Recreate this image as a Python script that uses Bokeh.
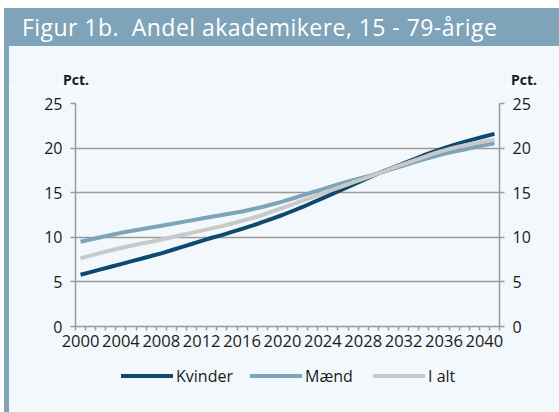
from bokeh.plotting import figure
from bokeh.models import FixedTicker, LinearAxis, Range1d, Div
from bokeh.layouts import column, row
from bokeh.embed import file_html
from bokeh.resources import INLINE

years = list(range(2000, 2042))
kvinder = [5.8, 6.1, 6.4, 6.7, 7.0, 7.3, 7.6, 7.9, 8.2, 8.55,
           8.9, 9.25, 9.6, 9.95, 10.25, 10.6, 10.95, 11.3, 11.7, 12.1,
           12.5, 12.95, 13.4, 13.9, 14.4, 14.9, 15.4, 15.9, 16.4, 16.9,
           17.4, 17.85, 18.3, 18.75, 19.2, 19.6, 20.0, 20.35, 20.7, 21.0,
           21.3, 21.6]
maend = [9.5, 9.75, 10.0, 10.25, 10.5, 10.7, 10.9, 11.1, 11.3, 11.5,
         11.7, 11.9, 12.1, 12.3, 12.5, 12.7, 12.9, 13.15, 13.4, 13.7,
         14.0, 14.35, 14.7, 15.05, 15.4, 15.75, 16.1, 16.4, 16.7, 17.0,
         17.35, 17.7, 18.05, 18.4, 18.75, 19.05, 19.35, 19.6, 19.85, 20.1,
         20.35, 20.55]
i_alt = [7.65, 7.95, 8.25, 8.55, 8.8, 9.05, 9.3, 9.5, 9.75, 10.0,
         10.25, 10.5, 10.75, 11.0, 11.25, 11.55, 11.85, 12.15, 12.5, 12.9,
         13.3, 13.7, 14.1, 14.5, 14.95, 15.35, 15.75, 16.15, 16.55, 16.95,
         17.35, 17.8, 18.2, 18.6, 19.0, 19.4, 19.75, 20.05, 20.3, 20.55,
         20.75, 20.95]
x_tick_labels = [2000, 2004, 2008, 2012, 2016, 2020, 2024, 2028, 2032, 2036, 2040]
y_ticks = [0, 5, 10, 15, 20, 25]
series_names = ["Kvinder", "Mænd", "I alt"]
title_text = "Figur 1b.&nbsp; Andel akademikere, 15 - 79-årige"
unit_text = "Pct."

BG = "#f3f8fc"
BAR = "#7fa3b9"
GRID = "#9a9a9a"
TXT = "#1a1a1a"
colors = ["#0e4a70", "#7fa3ba", "#c9c9c9"]
FONT = "Open Sans"

# figure occupies page x 9..559, y 86..358
p = figure(width=550, height=272, output_backend="svg", toolbar_location=None,
           x_range=Range1d(years[0] - 0.5, years[-1] + 0.5),
           y_range=Range1d(0, 25),
           min_border_left=66, min_border_right=60,
           min_border_top=17, min_border_bottom=32, margin=0)
p.background_fill_color = BG
p.border_fill_color = BG
p.outline_line_color = None

p.xaxis.ticker = FixedTicker(ticks=x_tick_labels,
                             minor_ticks=[y - 0.5 for y in years] + [years[-1] + 0.5])
p.xaxis.major_tick_out = 0
p.xaxis.major_tick_in = 0
p.xaxis.minor_tick_out = 4
p.xaxis.minor_tick_in = 0
p.xaxis.minor_tick_line_color = GRID
p.xaxis.minor_tick_line_width = 1.5
p.xaxis.major_label_text_font_size = "16.5px"
p.xaxis.major_label_standoff = 4

p.yaxis.ticker = FixedTicker(ticks=y_ticks)
right_axis = LinearAxis(ticker=FixedTicker(ticks=y_ticks))
p.add_layout(right_axis, "right")

for ax in [p.xaxis[0], p.yaxis[0], right_axis]:
    ax.axis_line_color = GRID
    ax.axis_line_width = 1.5
    ax.major_label_text_font = FONT
    ax.major_label_text_color = TXT
for ax in [p.yaxis[0], right_axis]:
    ax.major_tick_out = 5
    ax.major_tick_in = 0
    ax.major_tick_line_color = GRID
    ax.major_tick_line_width = 1.5
    ax.minor_tick_line_color = None
    ax.major_label_text_font_size = "16px"
    ax.major_label_standoff = 8

p.xgrid.grid_line_color = None
p.ygrid.ticker = FixedTicker(ticks=y_ticks)
p.ygrid.grid_line_color = GRID
p.ygrid.grid_line_width = 1.5

series = dict(zip(series_names, [kvinder, maend, i_alt]))
col_of = dict(zip(series_names, colors))
for name in ["Mænd", "Kvinder", "I alt"]:
    p.line(years, series[name], line_color=col_of[name], line_width=4,
           line_join="round")

# ---- HTML parts: title bar, left strip, unit labels, legend ----
title_div = Div(text=title_text, width=555, height=38, margin=(8, 0, 0, 4),
                styles={"background-color": BAR, "color": "white",
                        "font-family": FONT, "font-size": "23px",
                        "letter-spacing": "0.45px",
                        "line-height": "38px", "padding-left": "18px",
                        "box-sizing": "border-box", "white-space": "nowrap",
                        "overflow": "hidden"})

pct_span = ('<span style="position:absolute;top:24px;left:{}px;width:40px;'
            'text-align:center;font-weight:bold;font-size:14px;line-height:20px;'
            'font-family:\'Open Sans\';color:' + TXT + '">{}</span>')
pct_div = Div(text=pct_span.format(47, unit_text) + pct_span.format(495, unit_text),
              width=550, height=40, margin=0,
              styles={"background-color": BG, "position": "relative"})

leg_x = [121, 250, 373]  # page x of legend swatches
leg_html = ""
for lx, name in zip(leg_x, series_names):
    leg_html += ('<span style="position:absolute;top:16px;left:{}px;width:52px;'
                 'height:4px;background:{}"></span>').format(lx - 9, col_of[name])
    leg_html += ('<span style="position:absolute;top:8px;left:{}px;font-size:16px;'
                 'line-height:20px;font-family:\'Open Sans\';color:' + TXT +
                 ';white-space:nowrap">{}</span>').format(lx + 55 - 9, name)
legend_div = Div(text=leg_html, width=550, height=54, margin=0,
                 styles={"background-color": BG, "position": "relative"})

strip = Div(text="", width=5, height=366, margin=0,
            styles={"background-color": BAR})

inner = column(pct_div, p, legend_div, spacing=0, margin=0)
body = row(strip, inner, spacing=0, margin=(0, 0, 0, 4))
layout = column(title_div, body, spacing=0, margin=0)

open("out.html", "w").write(file_html(layout, INLINE))
